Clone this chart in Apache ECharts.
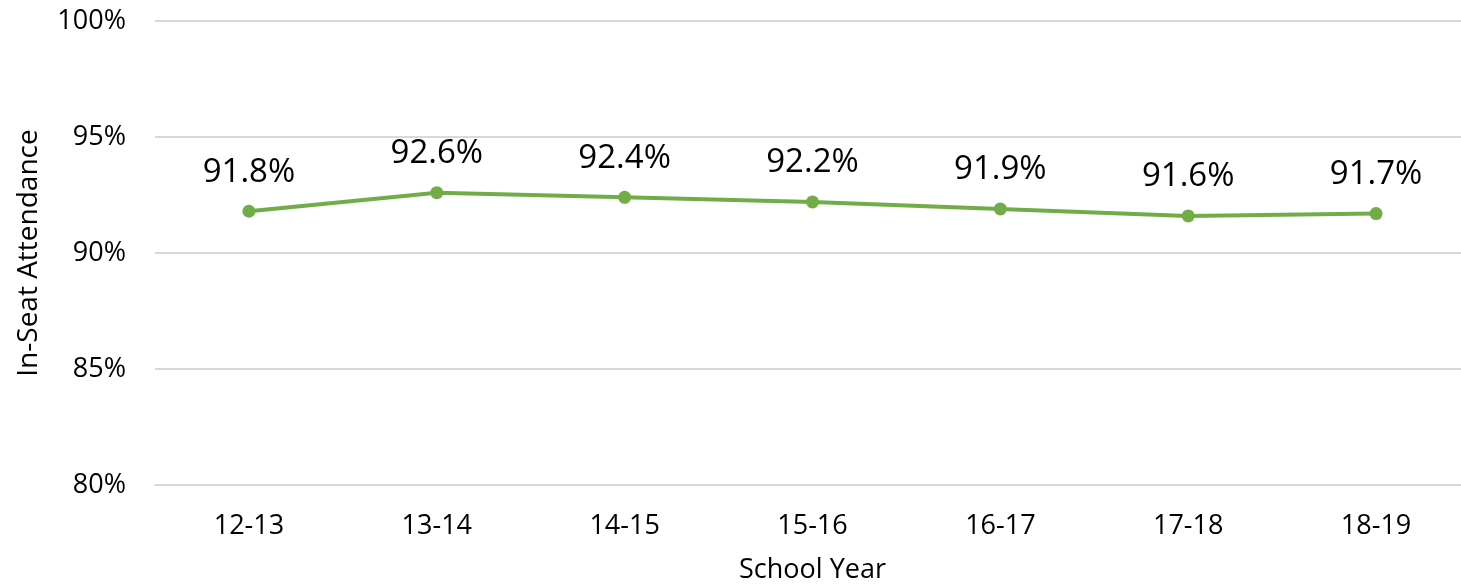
<!DOCTYPE html>
<html>
<head>
<meta charset="utf-8">
<script src="https://cdn.jsdelivr.net/npm/echarts@6/dist/echarts.min.js"></script>
<style>html,body{margin:0;padding:0;background:#fff;}#c{width:1461px;height:584px;}</style>
</head>
<body>
<div id="c"></div>
<script>
const categories = ['12-13','13-14','14-15','15-16','16-17','17-18','18-19'];
const attendance = [91.8, 92.6, 92.4, 92.2, 91.9, 91.6, 91.7];
const yTicks = [80, 85, 90, 95, 100];

const FONT = '"Open Sans", sans-serif';
const chart = echarts.init(document.getElementById('c'), null, {renderer:'canvas'});
chart.setOption({
  animation: false,
  backgroundColor: '#ffffff',
  grid: { left: 155, top: 21, width: 1315, height: 464, containLabel: false, outerBoundsMode: 'none' },
  xAxis: {
    type: 'category',
    data: categories,
    boundaryGap: true,
    name: 'School Year',
    nameLocation: 'middle',
    nameGap: 72,
    nameTextStyle: { fontFamily: FONT, fontSize: 27, color: '#000' },
    axisLine: { show: true, lineStyle: { color: '#d9d9d9', width: 2 } },
    axisTick: { show: false },
    axisLabel: { fontFamily: FONT, fontSize: 27, color: '#000', margin: 28 }
  },
  yAxis: {
    type: 'value',
    min: yTicks[0],
    max: yTicks[yTicks.length - 1],
    interval: 5,
    name: 'In-Seat Attendance',
    nameLocation: 'middle',
    nameGap: 112,
    nameTextStyle: { fontFamily: FONT, fontSize: 28, color: '#000' },
    axisLine: { show: false },
    axisTick: { show: false },
    axisLabel: { fontFamily: FONT, fontSize: 27, color: '#000', margin: 29, formatter: v => v + '%' },
    splitLine: { lineStyle: { color: '#d9d9d9', width: 2 } }
  },
  series: [{
    type: 'line',
    data: attendance,
    symbol: 'circle',
    symbolSize: 13,
    itemStyle: { color: '#70AD47' },
    lineStyle: { color: '#70AD47', width: 4 },
    label: {
      show: true,
      position: 'top',
      distance: 16,
      fontFamily: FONT,
      fontSize: 33,
      color: '#000',
      formatter: p => p.value.toFixed(1) + '%'
    }
  }]
});
</script>
</body>
</html>
